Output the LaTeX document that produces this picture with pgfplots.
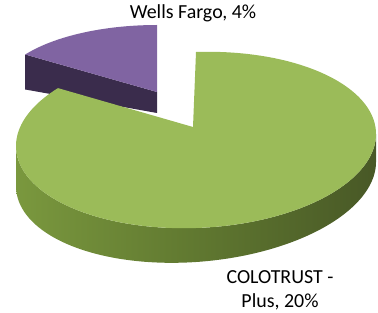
\documentclass[border=0pt]{standalone}
\usepackage{pgfplots}
\pgfplotsset{compat=1.18}
\usepackage{fontspec}
\setmainfont{Carlito}
\definecolor{greentop}{RGB}{155,187,89}
\definecolor{purptop}{RGB}{128,100,162}
\definecolor{purpdark}{RGB}{58,44,76}
\definecolor{gs1}{RGB}{112,142,56}
\definecolor{gs2}{RGB}{122,152,62}
\definecolor{gs3}{RGB}{96,120,48}
\definecolor{gs4}{RGB}{72,88,38}
\definecolor{gs5}{RGB}{60,72,32}
\pgfdeclarehorizontalshading{greenside}{100bp}{color(0bp)=(gs1); color(25bp)=(gs2); color(50bp)=(gs3); color(75bp)=(gs4); color(100bp)=(gs5)}
% data
\def\vWF{4}
\def\vCT{20}
\begin{document}
\begin{tikzpicture}
\path[use as bounding box] (0,0) rectangle (378bp,313bp);
\pgfmathsetmacro\aS{90}
\pgfmathsetmacro\aM{90+360*\vWF/(\vWF+\vCT)}
% perspective-warped boundary angles
\pgfmathsetmacro\aMg{atan2(1.45*sin(\aM),cos(\aM))}
\pgfmathsetmacro\aMp{atan2(1.17*sin(\aM),cos(\aM))}
\pgfmathsetmacro\aE{\aS+360}
% purple corner
\pgfmathsetmacro\pcx{157+159*cos(\aMp)}
\pgfmathsetmacro\pcyT{92-67*sin(\aMp)}
\pgfmathsetmacro\pcyB{\pcyT+35}
\begin{axis}[scale only axis, width=378bp, height=313bp,
  xmin=0, xmax=378, ymin=0, ymax=313, y dir=reverse,
  hide axis, clip=false, no markers]
% purple cut face
\addplot[fill=purpdark, draw=none] coordinates {(157,92) (\pcx,\pcyT) (\pcx,\pcyB) (157,113)};
% purple top face
\addplot[fill=purptop, draw=none, variable=\t, samples at={-1,0,1,...,60,61}]
  ({(\t<0 || \t>60) ? 157 : 157+159*cos(\aS+(\aMp-\aS)*\t/60)},
   {(\t<0 || \t>60) ? 92 : 92-67*sin(\aS+(\aMp-\aS)*\t/60)});
% green side
\addplot[shade, shading=greenside, draw=none, variable=\t, samples at={0,1,...,361}]
  ({196+180*cos(\t<=180 ? 180+\t : 541-\t)},
   {140-88*sin(\t<=180 ? 180+\t : 541-\t) - 6*cos(\t<=180 ? 180+\t : 541-\t)
     + (\t<=180 ? 34-6*cos(180+\t) : 0)});
% green top
\addplot[fill=greentop, draw=none, variable=\t, samples at={-1,0,1,...,300,301}]
  ({(\t<0 || \t>300) ? 193 : 196+180*cos(\aMg+(\aE-\aMg)*\t/300)},
   {(\t<0 || \t>300) ? 127 : 140-88*sin(\aMg+(\aE-\aMg)*\t/300)-6*cos(\aMg+(\aE-\aMg)*\t/300)});
\node[anchor=base, font=\fontsize{20}{24}\selectfont] at (axis cs:193,19) {Wells Fargo, 4\%};
\node[anchor=base, font=\fontsize{20}{24}\selectfont] at (axis cs:280,283) {COLOTRUST -};
\node[anchor=base, font=\fontsize{20}{24}\selectfont] at (axis cs:280,307) {Plus, 20\%};
\end{axis}
\end{tikzpicture}
\end{document}
